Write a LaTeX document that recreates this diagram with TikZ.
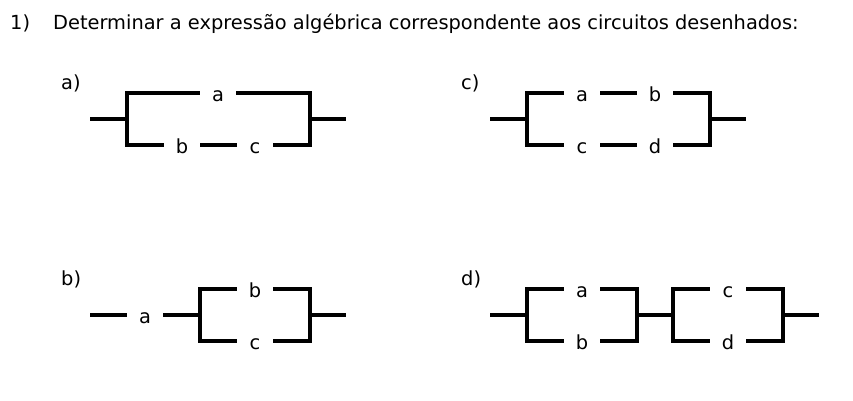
\documentclass[tikz,border=0pt]{standalone}
\usepackage{fontspec}
\setmainfont{DejaVu Sans}
\tikzset{
	wire/.style={line width=3.3pt,black},
	sw/.style={inner sep=0pt,minimum width=36pt,text height=16pt,text depth=0pt,font=\fontsize{19.4pt}{23pt}\selectfont},
	txt/.style={inner sep=0pt,anchor=base west,font=\fontsize{19.4pt}{23pt}\selectfont}
}
\begin{document}
\begin{tikzpicture}[x=1pt,y=-1pt]
	\useasboundingbox (0,0) rectangle (853,400);
	\node[txt] (num) at (10,29) {1)};
	\node[txt] (title) at (53,29) {Determinar a expressão algébrica correspondente aos circuitos desenhados:};
	\node[txt] (lblA) at (61,89) {a)};
	\node[txt] (lblC) at (461,89) {c)};
	\node[txt] (lblB) at (61,285) {b)};
	\node[txt] (lblD) at (461,285) {d)};

	\coordinate (aIn) at (90,119);
	\coordinate (aL) at (127,119);
	\coordinate (aR) at (310,119);
	\coordinate (aOut) at (346,119);
	\node[sw] (aa) at (218,93) {a};
	\node[sw] (ab) at (182,145) {b};
	\node[sw] (ac) at (255,145) {c};
	\draw[wire] (aIn) -- (aL);
	\draw[wire] (aa.west) -| (aL) |- (ab.west);
	\draw[wire] (ab.east) -- (ac.west);
	\draw[wire] (aa.east) -| (aR) |- (ac.east);
	\draw[wire] (aR) -- (aOut);

	\coordinate (cIn) at (490,119);
	\coordinate (cL) at (527,119);
	\coordinate (cR) at (710,119);
	\coordinate (cOut) at (746,119);
	\node[sw] (ca) at (582,93) {a};
	\node[sw] (cb) at (655,93) {b};
	\node[sw] (cc) at (582,145) {c};
	\node[sw] (cd) at (655,145) {d};
	\draw[wire] (cIn) -- (cL);
	\draw[wire] (ca.west) -| (cL) |- (cc.west);
	\draw[wire] (ca.east) -- (cb.west);
	\draw[wire] (cc.east) -- (cd.west);
	\draw[wire] (cb.east) -| (cR) |- (cd.east);
	\draw[wire] (cR) -- (cOut);

	\coordinate (bIn) at (90,315);
	\coordinate (bL) at (200,315);
	\coordinate (bR) at (310,315);
	\coordinate (bOut) at (346,315);
	\node[sw] (ba) at (145,315) {a};
	\node[sw] (bb) at (255,289) {b};
	\node[sw] (bc) at (255,341) {c};
	\draw[wire] (bIn) -- (ba.west);
	\draw[wire] (ba.east) -- (bL);
	\draw[wire] (bb.west) -| (bL) |- (bc.west);
	\draw[wire] (bb.east) -| (bR) |- (bc.east);
	\draw[wire] (bR) -- (bOut);

	\coordinate (dIn) at (490,315);
	\coordinate (dL) at (527,315);
	\coordinate (dM) at (637,315);
	\coordinate (dN) at (673,315);
	\coordinate (dR) at (783,315);
	\coordinate (dOut) at (819,315);
	\node[sw] (da) at (582,289) {a};
	\node[sw] (db) at (582,341) {b};
	\node[sw] (dc) at (728,289) {c};
	\node[sw] (dd) at (728,341) {d};
	\draw[wire] (dIn) -- (dL);
	\draw[wire] (da.west) -| (dL) |- (db.west);
	\draw[wire] (da.east) -| (dM) |- (db.east);
	\draw[wire] (dM) -- (dN);
	\draw[wire] (dc.west) -| (dN) |- (dd.west);
	\draw[wire] (dc.east) -| (dR) |- (dd.east);
	\draw[wire] (dR) -- (dOut);
\end{tikzpicture}
\end{document}
